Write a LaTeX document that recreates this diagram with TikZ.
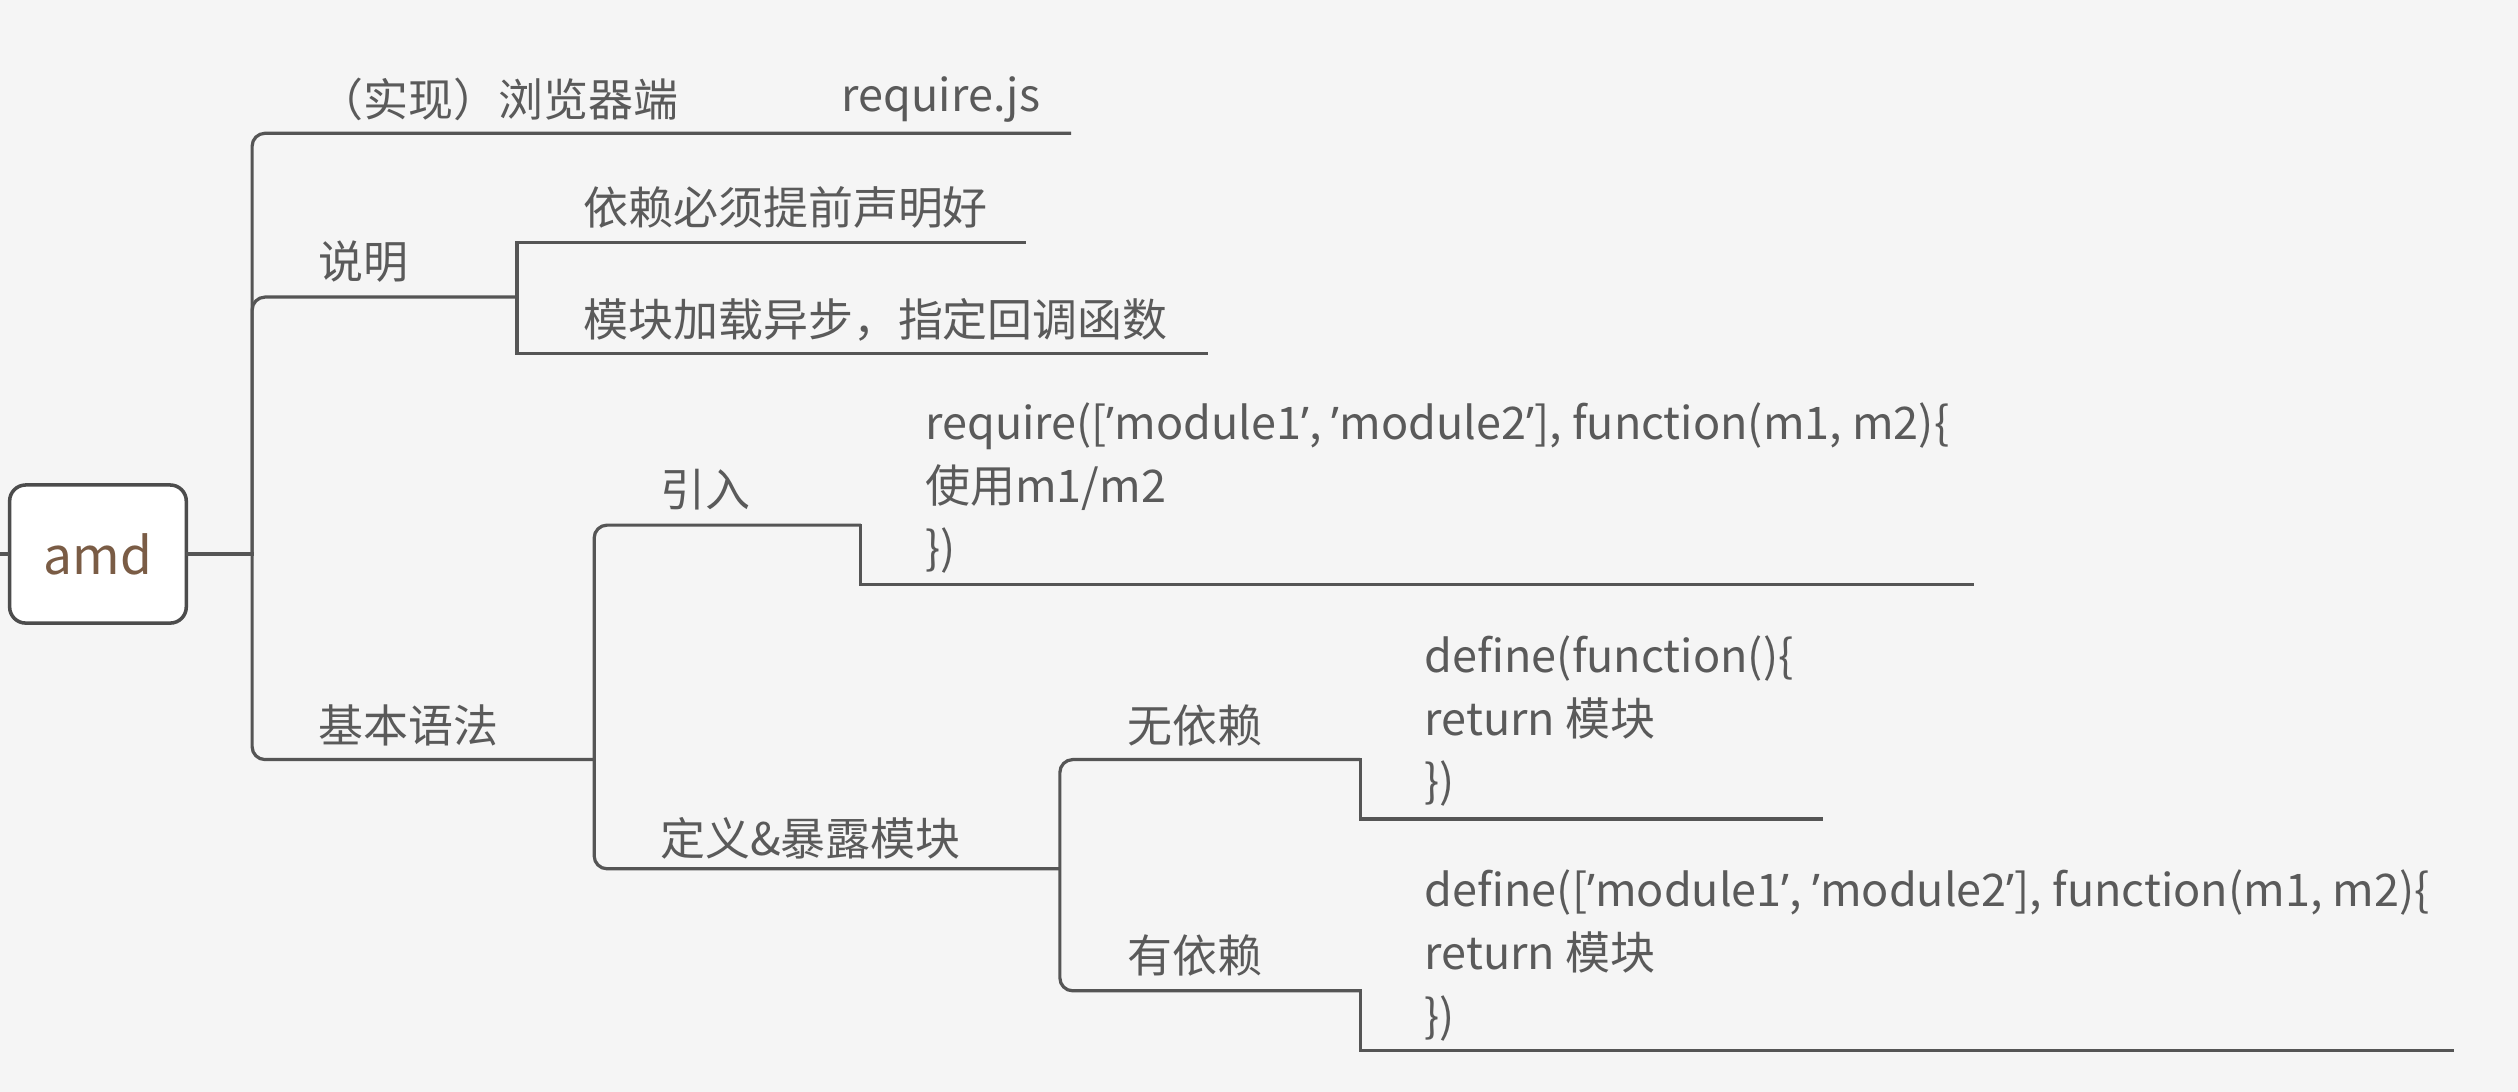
\documentclass[tikz,border=0pt]{standalone}
\usepackage{fontspec}
\setmainfont{Noto Sans CJK SC}
\newfontfamily\latq{Noto Sans}
\newcommand\apq{{\latq ’}}
\definecolor{bg}{HTML}{F5F5F5}
\definecolor{ln}{HTML}{555555}
\definecolor{tx}{HTML}{5A5A5A}
\definecolor{amdc}{HTML}{7A5C45}
\begin{document}
\begin{tikzpicture}[x=1pt,y=-1pt,
  lbl/.style={anchor=west, inner sep=0pt, text=tx, font=\fontsize{28}{39}\selectfont},
  code/.style={lbl, align=left},
  br/.style={draw=ln, line width=2pt, rounded corners=8pt},
  sq/.style={draw=ln, line width=2pt, line cap=rect}]
\fill[bg] (0,0) rectangle (1568,680);
\useasboundingbox (0,0) rectangle (1568,680);

% root
\node[draw=ln!90!black, fill=white, rounded corners=10pt, line width=2.2pt,
  minimum width=110pt, minimum height=86pt, text=amdc,
  font=\fontsize{32}{38}\selectfont] (amd) at (61,345) {amd};

% texts
\node[lbl] (impl) at (198,62) {（实现）浏览器端};
\node[lbl] (req) at (524,62) {require.js};
\node[lbl] (sm) at (198,163) {说明};
\node[lbl] (d1) at (363,129) {依赖必须提前声明好};
\node[lbl] (d2) at (363,199) {模块加载异步，指定回调函数};
\node[lbl] (jb) at (198,452) {基本语法};
\node[lbl] (yr) at (411,305) {引入};
\node[code] (c1) at (576,304) {require([\apq module1\apq, \apq module2\apq], function(m1, m2)\{\\使用m1/m2\\\})};
\node[lbl] (dy) at (411,522) {定义\&暴露模块};
\node[lbl] (wy) at (702,452) {无依赖};
\node[code] (c2) at (887,449) {define(function()\{\\return 模块\\\})};
\node[lbl] (yy) at (702,595) {有依赖};
\node[code] (c3) at (887,595) {define([\apq module1\apq, \apq module2\apq], function(m1, m2)\{\\return 模块\\\})};

% junction coordinates
\coordinate (stub) at (0,345);
\coordinate (t) at (157,345);
\coordinate (e1) at (667,83);
\coordinate (s2) at (322,185);
\coordinate (d1a) at (322,151);
\coordinate (d1e) at (638,151);
\coordinate (d2a) at (322,220);
\coordinate (d2e) at (751,220);
\coordinate (s3) at (370,473);
\coordinate (yra) at (370,327);
\coordinate (yrb) at (536,327);
\coordinate (c1a) at (536,364);
\coordinate (c1e) at (1228,364);
\coordinate (dya) at (370,541);
\coordinate (dyb) at (660,541);
\coordinate (wya) at (660,473);
\coordinate (wyb) at (847,473);
\coordinate (c2a) at (847,510);
\coordinate (c2e) at (1134,510);
\coordinate (yya) at (660,617);
\coordinate (yyb) at (847,617);
\coordinate (c3a) at (847,654);
\coordinate (c3e) at (1527,654);

% connectors
\draw[sq] (stub) -- (amd.west);
\draw[sq] (amd.east) -- (t);
\draw[br] (t) |- (e1);
\draw[br] (t) |- (s2);
\draw[br] (t) |- (s3);
\draw[sq] (d1e) -- (d1a) -- (d2a) -- (d2e);
\draw[br] (yrb) -- (yra) -- (dya) -- (dyb);
\draw[sq] (yrb) -- (c1a) -- (c1e);
\draw[br] (wyb) -- (wya) -- (yya) -- (yyb);
\draw[sq] (wyb) -- (c2a) -- (c2e);
\draw[sq] (yyb) -- (c3a) -- (c3e);
\end{tikzpicture}
\end{document}
